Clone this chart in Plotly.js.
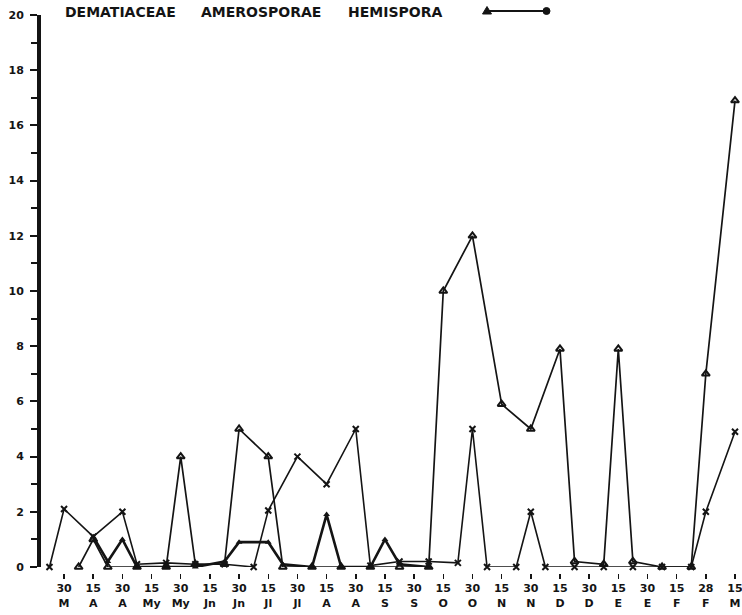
<!DOCTYPE html>
<html>
<head>
<meta charset="utf-8">
<script src="https://cdn.plot.ly/plotly-3.0.1.min.js"></script>
<style>
  html, body { margin: 0; padding: 0; background: #fff; }
  #chart { width: 742px; height: 615px; }
</style>
</head>
<body>
<div id="chart"></div>
<script>
// Sampling dates (day / month), one tick per half month
const tickDays   = ['30','15','30','15','30','15','30','15','30','15','30','15','30','15','30','15','30','15','30','15','30','15','28','15'];
const tickMonths = ['M','A','A','My','My','Jn','Jn','Jl','Jl','A','A','S','S','O','O','N','N','D','D','E','E','F','F','M'];

// Hemispora counts (position in half-month steps from 30 M)
const hemisporaPos  = [0.5, 1, 1.5, 2.5, 3.5, 4, 4.5, 5.5, 6, 7, 7.5, 8.5, 9.5, 10.5, 11.5, 12.5, 13, 14, 15, 16, 17, 17.5, 18.5, 19, 19.5, 20.5, 21.5, 22, 23];
const hemisporaVals = [0, 1.0, 0, 0, 0, 4.0, 0.1, 0.1, 5.0, 4.0, 0, 0, 0, 0, 0, 0, 10.0, 12.0, 5.9, 5.0, 7.9, 0.2, 0.1, 7.9, 0.2, 0, 0, 7.0, 16.9];

// Second series (x markers)
const crossPos  = [-0.5, 0, 1, 2, 2.5, 3.5, 4.5, 5.5, 6.5, 7, 8, 9, 10, 10.5, 11.5, 12.5, 13.5, 14, 14.5, 15.5, 16, 16.5, 17.5, 18.5, 19.5, 20.5, 21.5, 22, 23];
const crossVals = [0, 2.1, 1.1, 2.0, 0.1, 0.15, 0.1, 0.1, 0, 2.05, 4.0, 3.0, 5.0, 0.05, 0.2, 0.2, 0.15, 5.0, 0, 0, 2.0, 0, 0, 0, 0, 0, 0, 2.0, 4.9];

// Third series (heavy line)
const heavyPos  = [1, 1.5, 2, 2.5, 3.5, 4.5, 5.5, 6, 7, 7.5, 8.5, 9, 9.5, 10.5, 11, 11.5, 12.5];
const heavyVals = [1.1, 0.2, 1.0, 0, 0, 0, 0.2, 0.9, 0.9, 0.1, 0, 1.9, 0, 0, 1.0, 0.1, 0];

const INK = '#141414';
const boldFont = (size) => ({ family: 'DejaVu Sans, Liberation Sans, sans-serif', size: size, color: INK, weight: 'bold' });

const tickVals = tickDays.map((_, i) => i);
const tickText = tickDays.map((d, i) => d + '<br>' + tickMonths[i]);

const traces = [
  {
    x: heavyPos, y: heavyVals, type: 'scatter', mode: 'lines+markers',
    line: { color: INK, width: 2.6 },
    marker: { symbol: 'triangle-up', size: 6, color: INK },
    cliponaxis: false, showlegend: false
  },
  {
    x: crossPos, y: crossVals, type: 'scatter', mode: 'lines+markers',
    line: { color: INK, width: 1.6 },
    marker: { symbol: 'x-thin-open', size: 6, line: { color: INK, width: 2 } },
    cliponaxis: false, showlegend: false
  },
  {
    x: hemisporaPos, y: hemisporaVals, type: 'scatter', mode: 'lines+markers',
    line: { color: INK, width: 1.7 },
    marker: { symbol: 'triangle-up-open', size: 7, color: INK, line: { color: INK, width: 2 } },
    cliponaxis: false, showlegend: false
  }
];

// Plot frame in pixels, used to place the heading and key in paper units
const L = 41, R = 742, T = 15, B = 573;
const px = (x) => (x - L) / (R - L);
const py = (y) => (B - y) / (B - T);

const heading = [
  { text: 'DEMATIACEAE', x: 63 },
  { text: 'AMEROSPORAE', x: 199 },
  { text: 'HEMISPORA', x: 346 }
].map(h => ({
  text: h.text, xref: 'paper', yref: 'paper', x: px(h.x), y: py(12),
  xanchor: 'left', yanchor: 'middle', showarrow: false, font: boldFont(14)
}));

const keyY = py(11);
const triPath = 'M ' + px(487) + ' ' + py(6.5) + ' L ' + px(491.5) + ' ' + py(14) + ' L ' + px(482.5) + ' ' + py(14) + ' Z';
const shapes = [
  { type: 'line', xref: 'paper', yref: 'paper', x0: px(487), x1: px(546), y0: keyY, y1: keyY, line: { color: INK, width: 2 } },
  { type: 'path', xref: 'paper', yref: 'paper', path: triPath, fillcolor: INK, line: { color: INK, width: 1 } },
  { type: 'circle', xref: 'paper', yref: 'paper', x0: px(543), x1: px(550), y0: py(14.5), y1: py(7.5), fillcolor: INK, line: { color: INK, width: 1 } }
];

const layout = {
  width: 742, height: 615,
  margin: { l: L, r: 742 - R, t: T, b: 615 - B },
  paper_bgcolor: '#fff', plot_bgcolor: '#fff',
  showlegend: false,
  xaxis: {
    range: [-0.79, 23.24],
    tickvals: tickVals, ticktext: tickText,
    ticks: 'outside', ticklen: 5, tickwidth: 1.5, tickcolor: INK,
    showline: false, showgrid: false, zeroline: false,
    anchor: 'free', position: 0,
    ticklabelstandoff: 0,
    ticklabeloverflow: 'allow',
    tickfont: boldFont(11), tickangle: 0
  },
  yaxis: {
    domain: [(B - 567) / (B - T), 1],
    range: [0, 20],
    tickvals: [0, 2, 4, 6, 8, 10, 12, 14, 16, 18, 20],
    ticks: 'outside', ticklen: 7, tickwidth: 2, tickcolor: INK,
    minor: { dtick: 1, ticks: 'outside', ticklen: 6, tickwidth: 2, tickcolor: INK },
    showline: true, linewidth: 4, linecolor: INK,
    showgrid: false, zeroline: false,
    ticklabelstandoff: 4,
    tickfont: boldFont(11)
  },
  annotations: heading,
  shapes: shapes
};

Plotly.newPlot('chart', traces, layout, { staticPlot: true, displayModeBar: false });
</script>
</body>
</html>
